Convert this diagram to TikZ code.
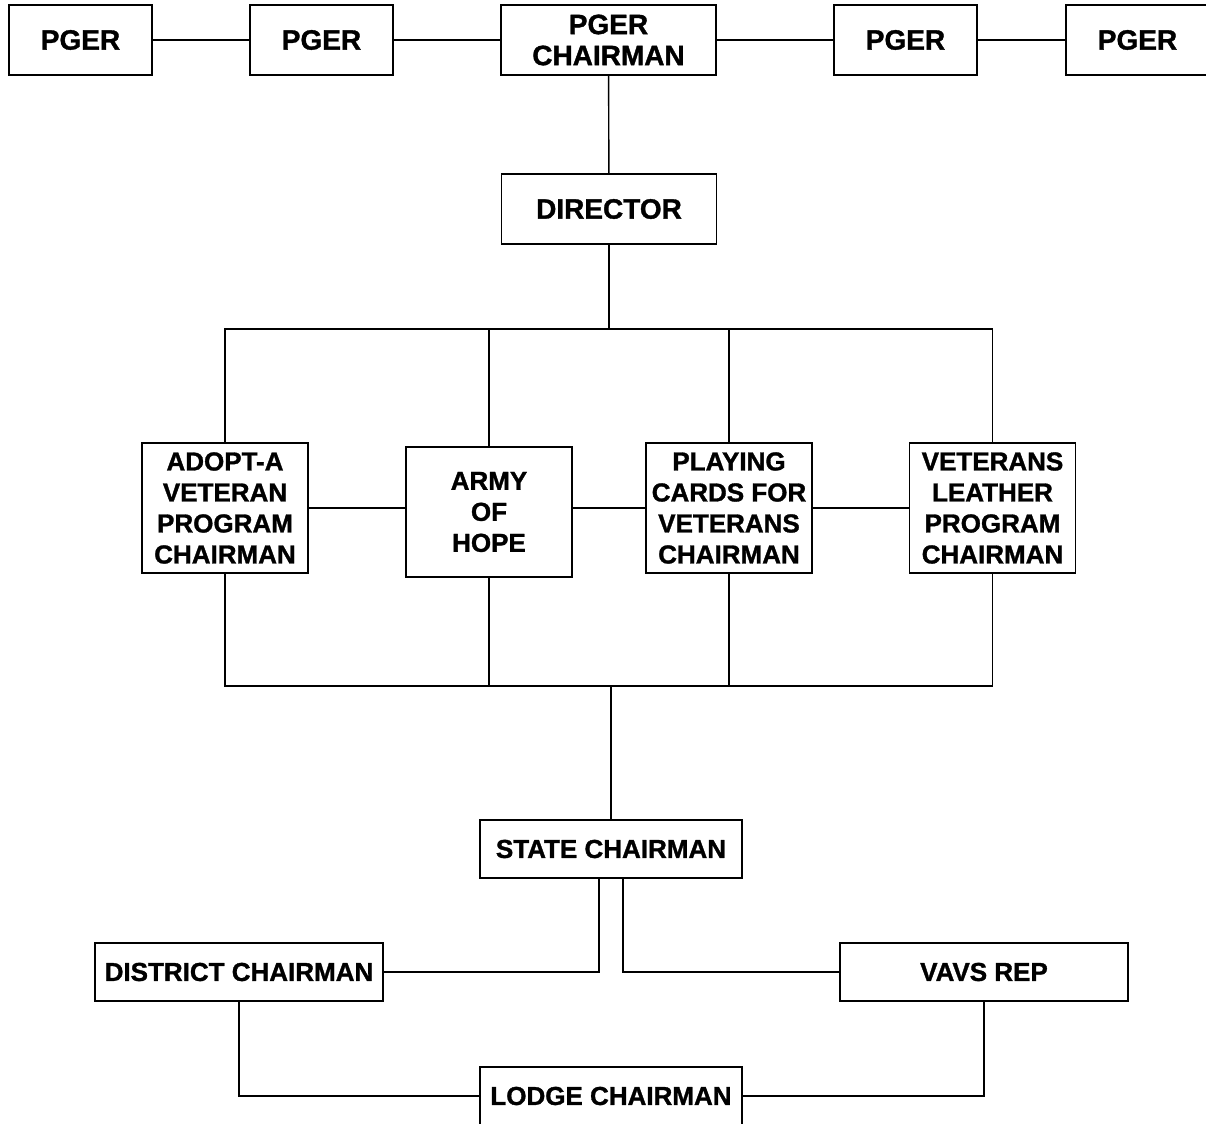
\documentclass[tikz,border=0pt]{standalone}
\usepackage{fontspec}
\setmainfont{Liberation Sans}[BoldFeatures={FakeBold=1.2}]
\begin{document}
\begin{tikzpicture}[x=0.5pt,y=-0.5pt,
  box/.style={draw,line width=0.9pt,inner sep=0pt,outer sep=0pt,align=center,font=\bfseries\fontsize{14}{15.5}\selectfont},
  pger/.style={box,minimum width=71.5pt,minimum height=35pt},
  head/.style={box,minimum width=107.5pt,minimum height=35pt},
  prog/.style={box,minimum width=83pt,minimum height=65pt,font=\bfseries\fontsize{13}{15.5}\selectfont},
  level/.style={box,minimum width=131pt,minimum height=29pt,font=\bfseries\fontsize{13}{15.5}\selectfont},
  wide/.style={level,minimum width=144pt},
  link/.style={line width=0.7pt}]
\useasboundingbox (0,0) rectangle (1206,1124);
\node[pger] (p1) at (80.5,40) {PGER};
\node[pger] (p2) at (321.5,40) {PGER};
\node[head] (chair) at (608.5,40) {PGER\\CHAIRMAN};
\node[pger] (p4) at (905.5,40) {PGER};
\node[pger] (p5) at (1137.5,40) {PGER};
\node[head] (dir) at (609,209) {DIRECTOR};
\node[prog] (adopt) at (225,508) {ADOPT-A\\VETERAN\\PROGRAM\\CHAIRMAN};
\node[prog] (army) at (489,512) {ARMY\\OF\\HOPE};
\node[prog] (cards) at (729,508) {PLAYING\\CARDS FOR\\VETERANS\\CHAIRMAN};
\node[prog] (leather) at (992.5,508) {VETERANS\\LEATHER\\PROGRAM\\CHAIRMAN};
\node[level] (state) at (611,849) {STATE CHAIRMAN};
\node[wide] (district) at (239,972) {DISTRICT CHAIRMAN};
\node[wide] (vavs) at (984,972) {VAVS REP};
\node[level] (lodge) at (611,1096) {LODGE CHAIRMAN};
\coordinate (top) at (609,329);
\coordinate (bot) at (611,686);
\draw[link] (p1) -- (p2);
\draw[link] (p2) -- (chair);
\draw[link] (chair) -- (p4);
\draw[link] (p4) -- (p5);
\draw[link] (chair) -- (dir);
\draw[link] (dir) -- (top);
\draw[link] (adopt.north) |- (top) -| (leather.north);
\draw[link] (army.north) -- (army.north |- top);
\draw[link] (cards.north) -- (cards.north |- top);
\draw[link] (adopt.east) -- (adopt.east -| army.west);
\draw[link] (army.east |- cards.west) -- (cards.west);
\draw[link] (cards) -- (leather);
\draw[link] (adopt.south) |- (bot) -| (leather.south);
\draw[link] (army.south) -- (army.south |- bot);
\draw[link] (cards.south) -- (cards.south |- bot);
\draw[link] (bot) -- (state);
\draw[link] ([xshift=-6pt]state.south) |- (district.east);
\draw[link] ([xshift=6pt]state.south) |- (vavs.west);
\draw[link] (district.south) |- (lodge.west);
\draw[link] (vavs.south) |- (lodge.east);
\end{tikzpicture}
\end{document}
